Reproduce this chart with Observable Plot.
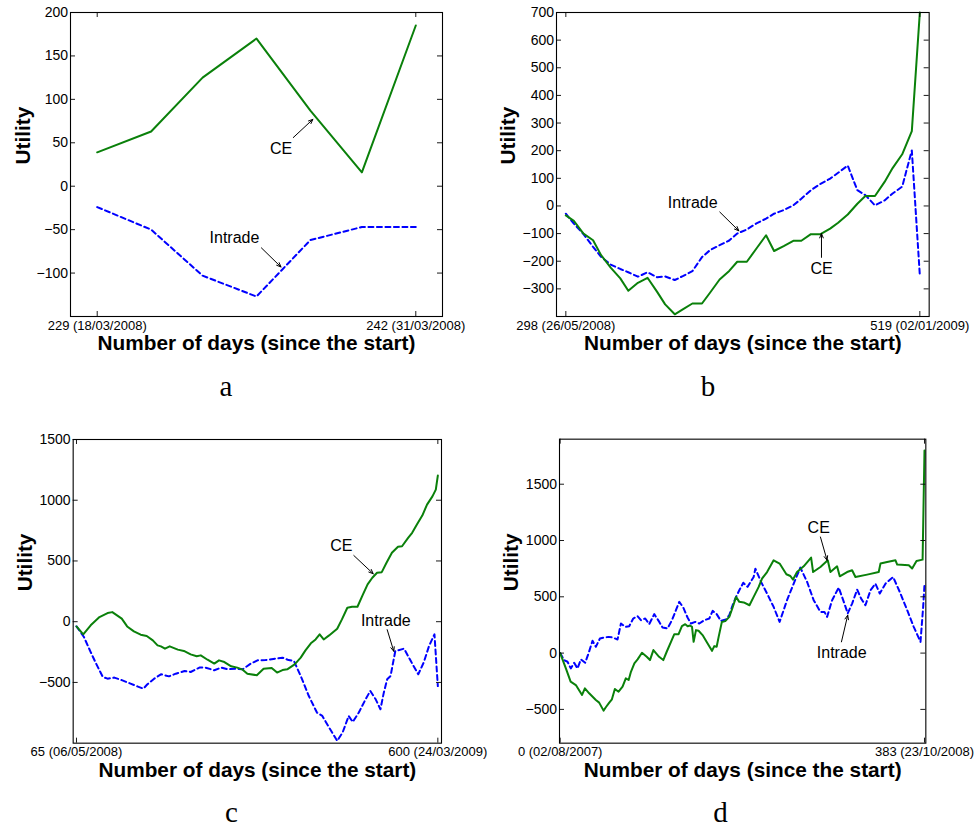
<!DOCTYPE html>
<html><head><meta charset="utf-8">
<script src="https://cdn.jsdelivr.net/npm/d3@7"></script>
<script src="https://cdn.jsdelivr.net/npm/@observablehq/plot@0.6"></script>
<style>
body{margin:0;background:#fff;}
#root{position:relative;width:978px;height:828px;overflow:hidden;background:#fff;}
.panel{position:absolute;}
</style></head><body><div id="root"></div>
<script>
// ---------- Panel a ----------
const aDays = [229, 231.2, 233.3, 235.5, 237.7, 239.8, 242];
const aCE = [39, 63, 125, 170, 87, 16, 185];
const aIntrade = [-24, -50, -103, -127, -62, -47, -47];
const aYTicks = [-100, -50, 0, 50, 100, 150, 200];
const aXTicks = [229, 242];
const aXTickLabels = ["229 (18/03/2008)", "242 (31/03/2008)"];
const aNotes = [{label: "CE", x: 236.5, y: 43}, {label: "Intrade", x: 234.6, y: -59}];
const aArrows = [{x1: 237.0, y1: 56, x2: 237.8, y2: 77}, {x1: 235.7, y1: -71, x2: 236.5, y2: -93}];

// ---------- Panel b ----------
const bDays = [298,303,309,315,320,326,332,337,343,349,355,360,366,371,377,383,388,394,400,405,411,417,423,428,434,440,445,451,457,463,468,474,480,485,491,497,502,508,514,519];
const bCE = [-34,-54,-100,-124,-178,-223,-262,-307,-278,-260,-311,-356,-392,-374,-353,-353,-314,-266,-235,-202,-202,-154,-106,-163,-145,-126,-126,-102,-102,-82,-61,-31,8,36,36,87,137,187,271,700];
const bIntrade = [-28,-64,-102,-148,-184,-212,-228,-240,-256,-240,-258,-255,-268,-254,-236,-185,-160,-142,-125,-100,-85,-63,-46,-28,-15,2,26,57,80,99,120,146,57,39,2,20,45,70,201,-251];
const bYTicks = [-300, -200, -100, 0, 100, 200, 300, 400, 500, 600, 700];
const bXTicks = [298, 519];
const bXTickLabels = ["298 (26/05/2008)", "519 (02/01/2009)"];
const bNotes = [{label: "Intrade", x: 377.2, y: 12}, {label: "CE", x: 457.7, y: -226}];
const bArrows = [{x1: 394.1, y1: -22, x2: 406, y2: -90}, {x1: 457.6, y1: -186, x2: 457.6, y2: -100}];

// ---------- Panel c ----------
const cCEDays = [65,75,86,99,111,118,132,140,150,160,169,178,185,190,196,203,215,224,234,243,249,259,269,276,284,294,303,311,318,332,342,354,362,370,377,388,397,404,412,419,425,431,439,451,458,466,473,481,488,496,503,510,517,524,532,541,547,556,562,569,577,584,592,597,600];
const cCE = [-39,-104,-30,38,71,79,25,-39,-80,-107,-118,-154,-195,-203,-222,-203,-230,-241,-269,-285,-277,-313,-345,-318,-332,-367,-378,-395,-428,-441,-388,-381,-419,-398,-392,-351,-296,-236,-178,-146,-104,-146,-113,-58,19,115,123,123,211,307,362,403,408,485,567,617,621,690,732,800,874,964,1032,1087,1203];
const cIntDays = [65,76,86,94,104,111,121,133,145,155,164,170,180,190,202,212,225,234,247,256,269,279,289,301,311,323,333,345,360,370,379,387,397,409,421,429,439,451,459,468,474,483,493,500,508,515,520,525,530,537,550,560,571,579,587,595,600];
const cIntrade = [-39,-126,-250,-345,-455,-469,-460,-483,-510,-532,-551,-515,-469,-433,-450,-428,-406,-414,-378,-378,-400,-378,-392,-386,-392,-345,-318,-316,-304,-296,-316,-324,-447,-612,-748,-776,-871,-981,-912,-776,-825,-748,-639,-570,-639,-721,-584,-474,-447,-242,-222,-324,-433,-337,-200,-104,-530];
const cYTicks = [-500, 0, 500, 1000, 1500];
const cXTicks = [65, 600];
const cXTickLabels = ["65 (06/05/2008)", "600 (24/03/2009)"];
const cNotes = [{label: "CE", x: 457.1, y: 627}, {label: "Intrade", x: 523, y: 7}];
const cArrows = [{x1: 475.6, y1: 545, x2: 504.3, y2: 395}, {x1: 525, y1: -66, x2: 534.8, y2: -244}];

// ---------- Panel d ----------
const dCEDays = [0,6,11,16.5,23,26,30.5,37.5,41,45.6,48,51.6,54.4,57.5,61.4,65.6,69,72,74.4,78,81.4,86,91,94.4,98,104,108.4,112,116.5,120,124.5,128,131.5,134,136.5,138.6,140.3,142.8,145.5,149.7,155,159.6,162,164.5,166.6,170,173.6,177.8,181.3,184.9,188.3,193,199,203.4,208.7,212.2,217.5,224.4,230.7,237.8,242,244.8,249,256,263.8,265.9,273.6,281.3,284.1,291.1,293.9,301.6,306.9,310.4,322.7,334.9,336.7,343.7,352.5,354.3,366.5,370,374.6,381,383];
const dCE = [0,-136,-254,-284,-372,-313,-357,-417,-440,-511,-481,-440,-410,-319,-343,-298,-224,-239,-166,-91,-56,3,-33,-62,27,-33,-62,12,100,168,168,239,257,239,245,233,100,204,198,160,86,20,62,56,144,277,284,322,405,499,455,450,425,499,588,662,720,824,795,700,685,653,720,771,848,720,765,824,720,771,682,720,736,676,697,720,795,809,824,786,780,751,818,830,1800];
const dIntDays = [0,4.2,7.7,11.2,14.7,18.2,21.8,26.3,29.8,34,37.5,41.8,46.3,50.8,55,60.3,63.9,68.4,72.6,76.8,81.3,84.9,89.4,93.6,98.9,104.2,107.6,112.9,117.5,121.7,125.2,129.4,133.9,137.5,142,146.3,151.5,156.8,160.3,164.5,169,174.3,177.8,181.3,184.9,188.3,192.5,197,203.4,205.2,211.2,217.5,224.4,230.7,238.5,245.5,252.5,259.6,266.5,273.6,277.8,280.6,285.9,292.8,298.8,302.3,306.9,312.2,316.4,320.9,326.2,331.4,336,342,350,357,364.8,371.7,378.8,381.6,383];
const dIntrade = [0,-62,-77,-136,-86,-136,-56,-86,-3,109,56,130,139,144,139,121,263,233,239,307,328,292,307,257,346,277,228,219,292,381,455,405,316,263,277,263,292,307,375,346,286,299,337,425,499,558,625,588,676,750,632,529,410,277,470,618,759,632,470,366,366,322,470,582,440,352,440,564,484,425,558,617,529,617,676,543,381,233,100,410,610];
const dYTicks = [-500, 0, 500, 1000, 1500];
const dXTicks = [0, 383];
const dXTickLabels = ["0 (02/08/2007)", "383 (23/10/2008)"];
const dNotes = [{label: "CE", x: 271.8, y: 1115}, {label: "Intrade", x: 296, y: 0}];
const dArrows = [{x1: 273.6, y1: 1031, x2: 280.6, y2: 824}, {x1: 295.7, y1: 100, x2: 302.3, y2: 337}];

const xLabel = "Number of days (since the start)";
const yLabel = "Utility";
const ceColor = "#0a800a";
const intradeColor = "#0000ff";
const sans = "'Liberation Sans', Arial, Helvetica, sans-serif";

const panels = [
  {letter: "a", left: 0, top: 0, width: 489, height: 420, ml: 70, mr: 47, mt: 12, mb: 104,
   xDomain: [227.91, 243.09], yDomain: [-150, 200], ceDays: aDays, ce: aCE, intDays: aDays, intr: aIntrade,
   yTicks: aYTicks, xTicks: aXTicks, xTickLabels: aXTickLabels, notes: aNotes, arrows: aArrows,
   yLabelDx: -47.5, xLabelDy: 33.4, letterDx: -30.5, letterDy: 79},
  {letter: "b", left: 489, top: 0, width: 489, height: 420, ml: 67, mr: 49.33, mt: 12, mb: 104,
   xDomain: [292.17, 524.83], yDomain: [-400, 700], ceDays: bDays, ce: bCE, intDays: bDays, intr: bIntrade,
   yTicks: bYTicks, xTicks: bXTicks, xTickLabels: bXTickLabels, notes: bNotes, arrows: bArrows,
   yLabelDx: -48.5, xLabelDy: 33.4, letterDx: -34.8, letterDy: 79},
  {letter: "c", left: 0, top: 420, width: 489, height: 408, ml: 72.67, mr: 48, mt: 19, mb: 85.33,
   xDomain: [60.07, 605.43], yDomain: [-1000, 1500], ceDays: cCEDays, ce: cCE, intDays: cIntDays, intr: cIntrade,
   yTicks: cYTicks, xTicks: cXTicks, xTickLabels: cXTickLabels, notes: cNotes, arrows: cArrows,
   yLabelDx: -47.7, xLabelDy: 34, letterDx: -25.8, letterDy: 79},
  {letter: "d", left: 489, top: 420, width: 489, height: 408, ml: 70, mr: 52.67, mt: 18.67, mb: 85.33,
   xDomain: [-0.7, 384.4], yDomain: [-800, 1900], ceDays: dCEDays, ce: dCE, intDays: dIntDays, intr: dIntrade,
   yTicks: dYTicks, xTicks: dXTicks, xTickLabels: dXTickLabels, notes: dNotes, arrows: dArrows,
   yLabelDx: -48, xLabelDy: 34, letterDx: -22.2, letterDy: 79}
];

const fmtY = d => d < 0 ? "\u2212" + Math.abs(d) : String(d);

const root = document.getElementById("root");
for (const p of panels) {
  const fw = p.width - p.ml - p.mr;
  const fh = p.height - p.mt - p.mb;
  const ceData = p.ceDays.map((d, i) => ({day: d, u: p.ce[i]}));
  const intData = p.intDays.map((d, i) => ({day: d, u: p.intr[i]}));
  const xLab = new Map(p.xTicks.map((t, i) => [t, p.xTickLabels[i]]));
  const chart = Plot.plot({
    width: p.width, height: p.height,
    marginLeft: p.ml, marginRight: p.mr, marginTop: p.mt, marginBottom: p.mb,
    x: {domain: p.xDomain, label: null},
    y: {domain: p.yDomain, label: null},
    style: {fontFamily: sans, overflow: "visible", background: "transparent", color: "#000"},
    marks: [
      Plot.line(intData, {x: "day", y: "u", stroke: intradeColor, strokeWidth: 2, strokeDasharray: "5,3.5"}),
      Plot.line(ceData, {x: "day", y: "u", stroke: ceColor, strokeWidth: 2}),
      Plot.tickY(p.yTicks, {y: d => d, stroke: "#000", strokeWidth: 0.9, insetRight: fw - 5}),
      Plot.tickY(p.yTicks, {y: d => d, stroke: "#000", strokeWidth: 0.9, insetLeft: fw - 5}),
      Plot.tickX(p.xTicks, {x: d => d, stroke: "#000", strokeWidth: 0.9, insetTop: fh - 5}),
      Plot.tickX(p.xTicks, {x: d => d, stroke: "#000", strokeWidth: 0.9, insetBottom: fh - 5}),
      Plot.axisY({ticks: p.yTicks, tickSize: 0, tickPadding: 2.5, fontSize: 14, tickFormat: fmtY, label: null}),
      Plot.axisX({ticks: p.xTicks, tickSize: 0, tickPadding: 4, fontSize: 13, tickFormat: d => xLab.get(d), label: null}),
      Plot.frame({stroke: "#000", strokeWidth: 1.1}),
      Plot.arrow(p.arrows, {x1: "x1", y1: "y1", x2: "x2", y2: "y2", stroke: "#000", strokeWidth: 1, headLength: 7, headAngle: 45}),
      Plot.text(p.notes, {x: "x", y: "y", text: "label", fontSize: 16, fill: "#000"}),
      Plot.text([xLabel], {text: d => d, frameAnchor: "bottom", dy: p.xLabelDy, lineAnchor: "bottom", fontSize: 20.8, fontWeight: "bold", fill: "#000"}),
      Plot.text([yLabel], {text: d => d, frameAnchor: "left", dx: p.yLabelDx, rotate: -90, fontSize: 20.8, fontWeight: "bold", fill: "#000"}),
      Plot.text([p.letter], {text: d => d, frameAnchor: "bottom", dx: p.letterDx, dy: p.letterDy, lineAnchor: "bottom", fontSize: 29, fontFamily: "'Liberation Serif', 'DejaVu Serif', serif", fill: "#000"})
    ]
  });
  const div = document.createElement("div");
  div.className = "panel";
  div.style.left = p.left + "px";
  div.style.top = p.top + "px";
  div.appendChild(chart);
  root.appendChild(div);
}
</script></body></html>
